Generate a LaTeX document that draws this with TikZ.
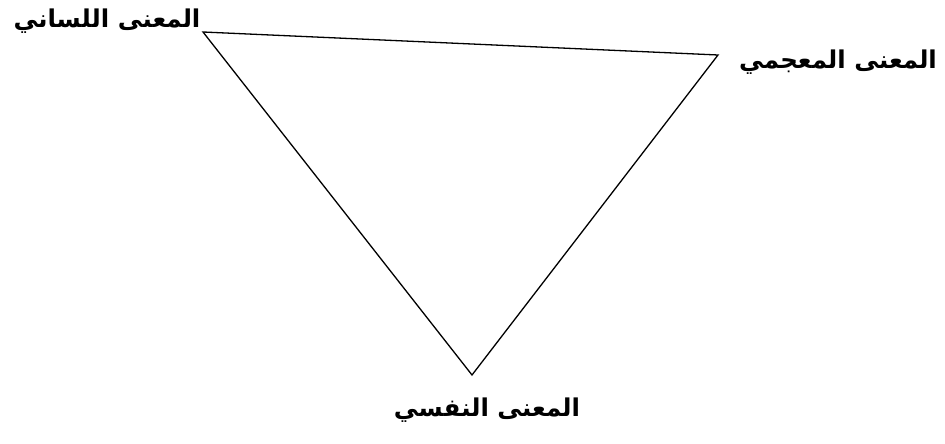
\documentclass[tikz,border=0pt]{standalone}
\usepackage{fontspec}
\usepackage{tikz}
\TeXXeTstate=1
\newfontfamily\arabicfont[Script=Arabic]{DejaVu Sans}
\tikzset{lbl/.style={inner sep=0pt, font=\arabicfont\bfseries\fontsize{24.5}{28}\selectfont}}

\begin{document}
\begin{tikzpicture}[x=1pt,y=1pt]
\useasboundingbox (0,0) rectangle (945,444);

\coordinate (1) at (203,412);
\coordinate (2) at (718,389);
\coordinate (3) at (472,69);
\draw[line width=1.3pt] (1) -- (2) -- (3) -- cycle;

\node[lbl] (1t) at (107,423) {\beginR المعنى اللساني\endR};
\node[lbl] (2t) at (838,382) {\beginR المعنى المعجمي\endR};
\node[lbl] (3t) at (487,34) {\beginR المعنى النفسي\endR};

\end{tikzpicture}
\end{document}
